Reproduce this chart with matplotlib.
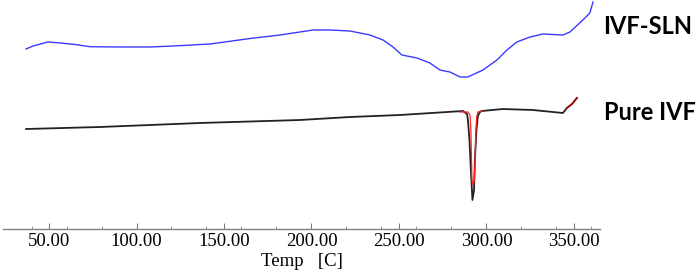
import matplotlib.pyplot as plt
from matplotlib.ticker import MultipleLocator, FormatStrFormatter

# DSC thermograms, signal in arbitrary units
sln_temp = [36.9, 40.9, 49.4, 56.3, 64.9, 73.4, 90.6, 107.7, 120.9, 142.0, 164.9,
            182.0, 200.9, 210.6, 222.0, 233.4, 240.9, 246.6, 251.7, 260.3, 267.7,
            273.4, 279.1, 284.9, 289.4, 298.0, 306.0, 311.7, 317.4, 324.9, 332.3,
            343.7, 347.7, 355.1, 359.1, 360.9]
sln_signal = [180, 183, 187, 186, 184.5, 182.3, 182, 182, 183, 185, 190.5,
              194, 199, 199, 198, 194, 189, 182, 174, 171, 166,
              159, 157, 152, 152, 159, 169, 179, 187, 192, 195,
              194, 197, 209, 216, 227]

ivf_temp = [36.9, 79.1, 136.3, 193.4, 222.0, 250.6, 286.6, 288.9, 289.4, 290.3,
            291.1, 292.0, 292.9, 293.4, 294.3, 295.1, 296.3, 297.4, 309.4, 326.6,
            343.7, 346.0, 348.9, 351.7]
ivf_signal = [100, 102, 106, 109, 112, 114, 118, 115, 109, 89,
              59, 29, 39, 69, 99, 113, 117, 118, 120, 119,
              116, 121, 125, 131]

# red trace (analysis overlay) around the melting peak and at the end
fit_temp = [284.9, 289.4, 290.6, 291.1, 291.7, 292.3, 293.1, 294.0, 294.4, 295.1, 297.4]
fit_signal = [117, 117, 114, 99, 49, 44, 49, 99, 112, 117, 118]
end_temp = [346.0, 348.9, 351.7]
end_signal = [121, 125, 131]

fig = plt.figure(figsize=(6.99, 2.71), dpi=100)
ax = fig.add_axes([3/699, 42/271, 597/699, 229/271])

ax.plot(sln_temp, sln_signal, color='#3a3aff', linewidth=1.0)
ax.plot(ivf_temp, ivf_signal, color='#222222', linewidth=1.3)
ax.plot(fit_temp, fit_signal, color='#ff2020', linewidth=0.9)
ax.plot(end_temp, end_signal, color='#c00000', linewidth=1.1)

ax.set_xlim(23.7, 364.9)
ax.set_ylim(0, 229)

for s in ['left', 'top', 'right']:
    ax.spines[s].set_visible(False)
ax.spines['bottom'].set_color('#808080')
ax.spines['bottom'].set_linewidth(1)
ax.set_yticks([])

ax.xaxis.set_major_locator(MultipleLocator(50))
ax.xaxis.set_minor_locator(MultipleLocator(20))
ax.xaxis.set_major_formatter(FormatStrFormatter('%.2f'))
ax.tick_params(axis='x', which='major', direction='in', length=4, color='#808080',
               pad=3, labelsize=13.5)
ax.tick_params(axis='x', which='minor', direction='in', length=2, color='#808080')
for lab in ax.get_xticklabels():
    lab.set_fontfamily('Liberation Serif')

ax.set_xlabel('Temp   [C]', fontfamily='Liberation Serif', fontsize=13.5, labelpad=2)

fig.text(603/699, 1 - 27/271, 'IVF-SLN', fontfamily='Lato', fontweight='bold',
         fontsize=17, va='center', ha='left')
fig.text(604/699, 1 - 113/271, 'Pure IVF', fontfamily='Lato', fontweight='bold',
         fontsize=17, va='center', ha='left')

fig.savefig('out.png', dpi=100)
